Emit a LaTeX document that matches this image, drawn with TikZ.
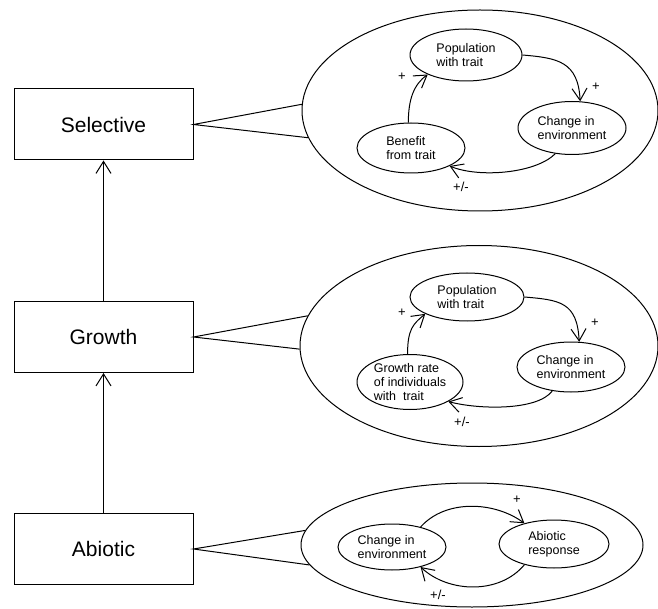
\documentclass[tikz,border=0pt]{standalone}
\usepackage{fontspec}
\setmainfont{Liberation Sans}
\usetikzlibrary{shapes.geometric,arrows.meta}
\begin{document}
\begin{tikzpicture}[x=1pt,y=-1pt,
  lvl/.style={draw,line width=1pt,minimum width=179pt,minimum height=71pt,inner sep=0pt,font=\fontsize{21}{25}\selectfont},
  big/.style={draw,ellipse,line width=1pt,inner sep=0pt},
  small/.style={draw,ellipse,line width=1pt,inner sep=0pt,minimum width=109pt,minimum height=50pt,align=left,font=\fontsize{12.5}{14}\selectfont},
  arr/.style={line width=1pt,-{Straight Barb[length=12pt,width=15pt]}},
  sgn/.style={inner sep=0pt,font=\fontsize{13}{14}\selectfont},
  tri/.style={line width=1pt}
]
\useasboundingbox (0,0) rectangle (658,609);

% level boxes
\node[lvl] (sel) at (103.5,124.5) {Selective};
\node[lvl] (gro) at (103.5,337) {Growth};
\node[lvl] (abi) at (103.5,549) {Abiotic};
\draw[arr] (gro.north) -- (sel.south);
\draw[arr] (abi.north) -- (gro.south);

% big ellipses
\node[big,minimum width=356pt,minimum height=201pt] (bigS) at (480,110.5) {};
\node[big,minimum width=358pt,minimum height=201pt] (bigG) at (479,346) {};
\node[big,minimum width=342pt,minimum height=124pt] (bigA) at (472,545) {};

% triangles
\draw[tri] (bigS.178) -- (sel.east) -- (bigS.189);
\draw[tri] (bigG.170) -- (gro.east) -- (bigG.181);
\draw[tri] (bigA.175) -- (abi.east) -- (bigA.187);

% Selective loop
\node[small,minimum width=112pt,minimum height=52pt] (popS) at (466,55) {Population\\with trait};
\node[small,minimum width=108pt,minimum height=53pt] (chgS) at (572,128) {Change in\\environment};
\node[small,minimum width=108pt,minimum height=50pt] (benS) at (411,148) {Benefit\\from trait};
\draw[arr] (popS.east) .. controls +(35,3) and +(-2,-40) .. (chgS.73);
\draw[arr] (chgS.237) .. controls +(-20,20) and +(29,12) .. (benS.-25);
\draw[arr] (benS.96) .. controls +(0,-23) and +(-14,10) .. (popS.207);
\node[sgn] (pS1) at (596,87) {+};
\node[sgn] (pS2) at (461,187) {+/-};
\node[sgn] (pS3) at (402,77) {+};

% Growth loop
\node[small,minimum width=114pt,minimum height=48pt] (popG) at (467,297) {Population\\with trait};
\node[small,minimum width=108pt,minimum height=50pt] (chgG) at (571,367) {Change in\\environment};
\node[small,minimum width=106pt,minimum height=55pt] (grG) at (410,382) {Growth rate\\of individuals\\with~ trait};
\draw[arr] (popG.east) .. controls +(35,3) and +(-2,-40) .. (chgG.72);
\draw[arr] (chgG.232) .. controls +(-15,20) and +(30,8) .. (grG.-27);
\draw[arr] (grG.95) .. controls +(0,-25) and +(-12,10) .. (popG.-158);
\node[sgn] (pG1) at (595,323) {+};
\node[sgn] (pG2) at (462,422) {+/-};
\node[sgn] (pG3) at (402,313) {+};

% Abiotic loop
\node[small,minimum width=108pt,minimum height=46pt] (chgA) at (392,547) {Change in\\environment};
\node[small,minimum width=110pt,minimum height=48pt] (abA) at (554,544) {Abiotic\\response};
\draw[arr] (chgA.35) .. controls +(25,-28) and +(-30,-22) .. (abA.145);
\draw[arr] (abA.215) .. controls +(-25,30) and +(28,26) .. (chgA.-35);
\node[sgn] (pA1) at (517,500) {+};
\node[sgn] (pA2) at (438,595) {+/-};
\end{tikzpicture}
\end{document}
